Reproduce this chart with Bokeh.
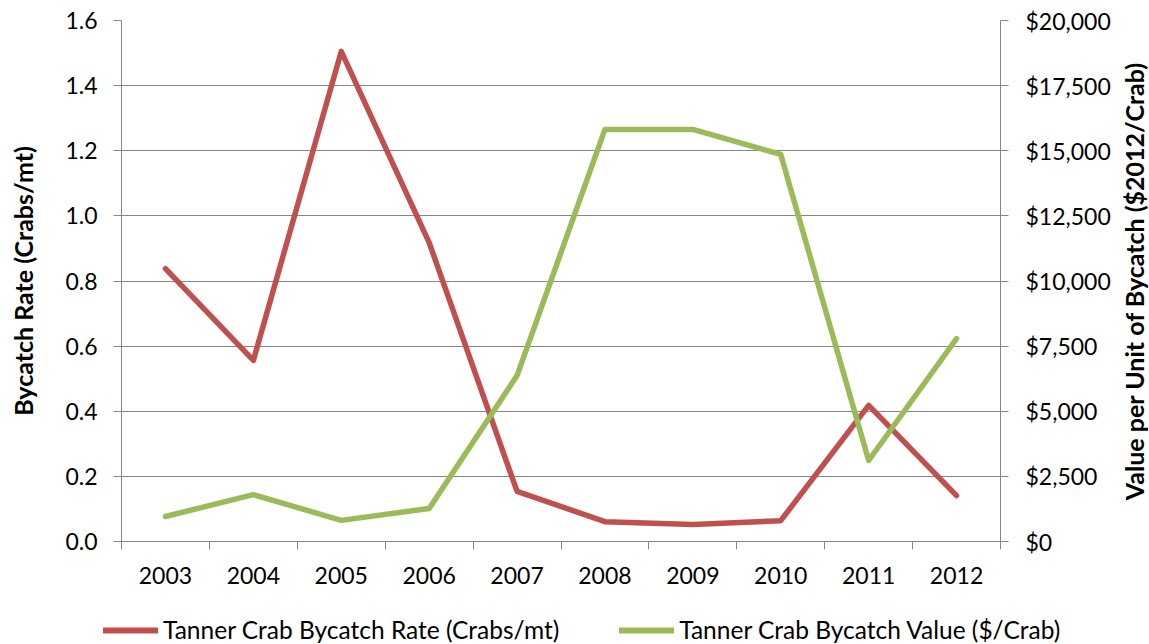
import math
from bokeh.plotting import figure
from bokeh.models import (Range1d, LinearAxis, FixedTicker, SingleIntervalTicker,
                          NumeralTickFormatter, Legend, LegendItem, Label)
from bokeh.layouts import column, row
from bokeh.embed import file_html
from bokeh.resources import INLINE

years = [2003, 2004, 2005, 2006, 2007, 2008, 2009, 2010, 2011, 2012]
year_labels = ["2003", "2004", "2005", "2006", "2007", "2008", "2009", "2010", "2011", "2012"]
bycatch_rate = [0.838, 0.556, 1.505, 0.918, 0.154, 0.061, 0.052, 0.064, 0.418, 0.141]
bycatch_value = [960, 1800, 810, 1270, 6370, 15820, 15820, 14860, 3110, 7790]
series_names = ["Tanner Crab Bycatch Rate (Crabs/mt)", "Tanner Crab Bycatch Value ($/Crab)"]
left_title = "Bycatch Rate (Crabs/mt)"
right_title = "Value per Unit of Bycatch ($2012/Crab)"

RED = "#C0504D"
GREEN = "#9BBB59"
GRID = "#868686"
FONT = "Lato"
TICK_FS = "23px"
TITLE_FS = "25px"


def no_align(fig):
    try:
        fig.frame_align = False
    except Exception:
        pass


p = figure(width=1120, height=600, output_backend="svg", toolbar_location=None,
           x_range=Range1d(2002.5, 2012.5), y_range=Range1d(0, 1.6),
           min_border_left=121, min_border_right=120, min_border_top=20, min_border_bottom=59)
no_align(p)
p.extra_y_ranges = {"value": Range1d(0, 20000)}
p.outline_line_color = None

r1 = p.line(years, bycatch_rate, line_color=RED, line_width=5.5, line_join="round", line_cap="round")
r2 = p.line(years, bycatch_value, line_color=GREEN, line_width=5.5, line_join="round", line_cap="round",
            y_range_name="value")

# x axis
xa = p.xaxis[0]
xa.ticker = FixedTicker(ticks=years, minor_ticks=[y - 0.5 for y in years] + [2012.5])
xa.major_label_overrides = {y: l for y, l in zip(years, year_labels)}
xa.major_tick_out = 0
xa.major_tick_in = 0
xa.minor_tick_out = 8
xa.minor_tick_in = 0
xa.minor_tick_line_color = GRID
xa.axis_line_color = GRID
xa.major_label_standoff = 17
xa.major_label_text_font = FONT
xa.major_label_text_font_size = TICK_FS
xa.major_label_text_color = "black"

# left y axis
ya = p.yaxis[0]
ya.ticker = SingleIntervalTicker(interval=0.2, num_minor_ticks=0)
ya.formatter = NumeralTickFormatter(format="0.0")
ya.major_tick_out = 8
ya.major_tick_in = 0
ya.minor_tick_out = 0
ya.minor_tick_in = 0
ya.major_tick_line_color = GRID
ya.axis_line_color = GRID
ya.major_label_standoff = 16
ya.major_label_text_font = FONT
ya.major_label_text_font_size = TICK_FS
ya.major_label_text_color = "black"
ya.axis_label = left_title
ya.axis_label_text_font = FONT
ya.axis_label_text_font_size = TITLE_FS
ya.axis_label_text_font_style = "bold"
ya.axis_label_text_color = "black"
ya.axis_label_standoff = 24

# right y axis
ra = LinearAxis(y_range_name="value",
                ticker=SingleIntervalTicker(interval=2500, num_minor_ticks=0),
                formatter=NumeralTickFormatter(format="$0,0"))
ra.major_tick_out = 8
ra.major_tick_in = 0
ra.minor_tick_out = 0
ra.minor_tick_in = 0
ra.major_tick_line_color = GRID
ra.axis_line_color = GRID
ra.major_label_standoff = 17
ra.major_label_text_font = FONT
ra.major_label_text_font_size = TICK_FS
ra.major_label_text_color = "black"
p.add_layout(ra, "right")

p.xgrid.grid_line_color = None
p.ygrid.grid_line_color = GRID
p.ygrid.grid_line_width = 1

# right-hand axis title strip (reads bottom-to-top like the left title)
st = figure(width=29, height=600, output_backend="svg", toolbar_location=None,
            x_range=Range1d(0, 29), y_range=Range1d(0, 1),
            min_border_left=0, min_border_right=0, min_border_top=20, min_border_bottom=59)
no_align(st)
st.axis.visible = False
st.grid.visible = False
st.outline_line_color = None
st.add_layout(Label(x=13, y=0.5, text=right_title, angle=math.pi / 2,
                    text_align="center", text_baseline="middle",
                    text_font=FONT, text_font_size=TITLE_FS, text_font_style="bold",
                    text_color="black"))

# legend in a strip below (series drawn off-range so only the legend shows)
lg = figure(width=1149, height=44, output_backend="svg", toolbar_location=None,
            x_range=Range1d(0, 1), y_range=Range1d(0, 1),
            min_border_left=0, min_border_right=0, min_border_top=0, min_border_bottom=0)
no_align(lg)
lg.axis.visible = False
lg.grid.visible = False
lg.outline_line_color = None
l1 = lg.line(years, bycatch_rate, line_color=RED, line_width=6, line_cap="round")
l2 = lg.line(years, bycatch_value, line_color=GREEN, line_width=6, line_cap="round")
legend = Legend(items=[LegendItem(label=series_names[0], renderers=[l1]),
                       LegendItem(label=series_names[1], renderers=[l2])],
                orientation="horizontal", location=(103, 0))
legend.border_line_color = None
legend.background_fill_alpha = 0
legend.label_text_font = FONT
legend.label_text_font_size = "24.5px"
legend.label_text_color = "black"
legend.glyph_width = 55
legend.glyph_height = 20
legend.label_standoff = 5
legend.spacing = 60
legend.padding = 0
legend.margin = 0
lg.add_layout(legend, "center")

layout = column(row(p, st, spacing=0), lg, spacing=0)
open("out.html", "w").write(file_html(layout, INLINE))
